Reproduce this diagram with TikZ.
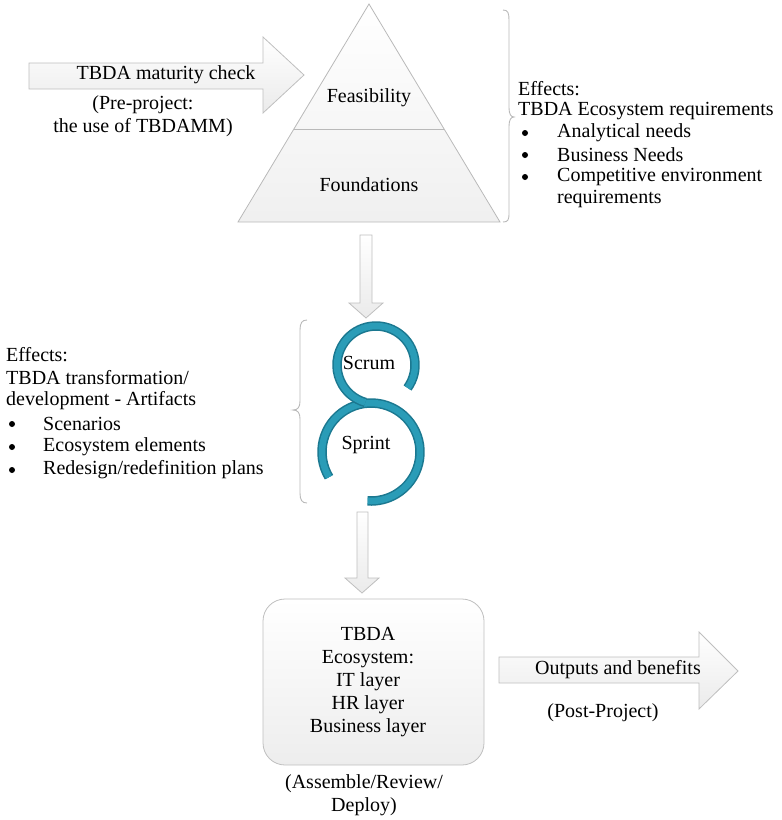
\documentclass[tikz,border=0pt]{standalone}
\usepackage{fontspec}
\setmainfont{Liberation Serif}
\definecolor{scrumdark}{HTML}{1B7890}
\definecolor{scrumlight}{HTML}{2A9CB7}
\begin{document}
\begin{tikzpicture}[x=1pt,y=-1pt,
  txt/.style={font=\fontsize{20}{23}\selectfont, inner sep=0pt, align=center},
  ltxt/.style={font=\fontsize{20}{23}\selectfont, inner sep=0pt, anchor=west},
  dot/.style={circle, fill=black, inner sep=0pt, minimum size=6pt},
  blockarrow/.style={draw=gray!50, line width=0.8pt, top color=white, bottom color=gray!16, line join=miter},
  pyramid/.style={draw=gray!55, line width=0.8pt, top color=white, bottom color=gray!12},
  ecobox/.style={draw=gray!50, line width=0.8pt, top color=white, bottom color=gray!14, rounded corners=22pt},
  bracepath/.style={draw=gray!55, line width=0.9pt},
  bandout/.style={draw=scrumdark, line width=9.5pt},
  bandin/.style={draw=scrumlight, line width=6.5pt},
]
\useasboundingbox (0,0) rectangle (782,820);

% pre-project arrow
\draw[blockarrow] (29,63) -- (263,63) -- (263,37) -- (304,75) -- (263,113) -- (263,89) -- (29,89) -- cycle;
\node[txt] (check) at (166,75) {TBDA maturity check};
\node[txt] (pre) at (143,116) {(Pre-project:\\the use of TBDAMM)};

% pyramid
\draw[pyramid] (369,4) -- (500,222) -- (238,222) -- cycle;
\draw[draw=gray!55, line width=0.8pt] (294,129) -- (444,129);
\node[txt] (feas) at (369,98) {Feasibility};
\node[txt] (found) at (369,185) {Foundations};

% right brace and requirements
\draw[bracepath] (503,10) .. controls (508,10) and (509,13) .. (509,20) -- (509,108)
  .. controls (509,114) and (511,117) .. (514,117) .. controls (511,117) and (509,120) .. (509,126)
  -- (509,213) .. controls (509,220) and (508,222) .. (503,222);
\node[ltxt] (r0) at (518,89) {Effects:};
\node[ltxt] (r1) at (518,111) {TBDA Ecosystem requirements};
\node[dot] (r2b) at (525,133) {};
\node[ltxt] (r2) at (557,133) {Analytical needs};
\node[dot] (r3b) at (525,155) {};
\node[ltxt] (r3) at (557,155) {Business Needs};
\node[dot] (r4b) at (525,177) {};
\node[ltxt] (r4) at (557,177) {Competitive environment};
\node[ltxt] (r5) at (557,199) {requirements};

% down arrow to the sprint cycle
\draw[blockarrow] (360,235) -- (372,235) -- (372,303) -- (383,303) -- (366,318) -- (349,303) -- (360,303) -- cycle;

% left brace and artifacts
\draw[bracepath] (307,320) .. controls (302,320) and (300,323) .. (300,330) -- (300,401)
  .. controls (300,407) and (298,410) .. (293,410) .. controls (298,410) and (300,413) .. (300,419)
  -- (300,493) .. controls (300,500) and (302,503) .. (307,503);
\node[ltxt] (l0) at (6,355) {Effects:};
\node[ltxt] (l1) at (6,378) {TBDA transformation/};
\node[ltxt] (l2) at (6,401) {development - Artifacts};
\node[dot] (l3b) at (12,424) {};
\node[ltxt] (l3) at (43,424) {Scenarios};
\node[dot] (l4b) at (12,447) {};
\node[ltxt] (l4) at (43,447) {Ecosystem elements};
\node[dot] (l5b) at (12,470) {};
\node[ltxt] (l5) at (43,470) {Redesign/redefinition plans};

% scrum / sprint loops
\draw[bandout] (371,452) ++(211:49pt) arc[start angle=211, end angle=-94, radius=49pt];
\draw[bandin]  (371,452) ++(211:49pt) arc[start angle=211, end angle=-94, radius=49pt];
\draw[bandout] (376,365) ++(-36:39pt) arc[start angle=-36, end angle=254, radius=39pt];
\draw[bandin]  (376,365) ++(-36:39pt) arc[start angle=-36, end angle=254, radius=39pt];
\node[txt] (scrum) at (369,363) {Scrum};
\node[txt] (sprint) at (366,445) {Sprint};

% down arrow to the ecosystem
\draw[blockarrow] (357,512) -- (368,512) -- (368,578) -- (379,578) -- (362,593) -- (345,578) -- (357,578) -- cycle;

% ecosystem box
\draw[ecobox] (263,599) rectangle (484,765);
\node[txt] (eco) at (368,682) {TBDA\\Ecosystem:\\IT layer\\HR layer\\Business layer};
\node[txt] (deploy) at (364,795) {(Assemble/Review/\\Deploy)};

% post-project arrow
\draw[blockarrow] (499,657) -- (699,657) -- (699,632) -- (738,671) -- (699,709) -- (699,683) -- (499,683) -- cycle;
\node[txt] (out) at (618,670) {Outputs and benefits};
\node[txt] (post) at (603,713) {(Post-Project)};
\end{tikzpicture}
\end{document}
